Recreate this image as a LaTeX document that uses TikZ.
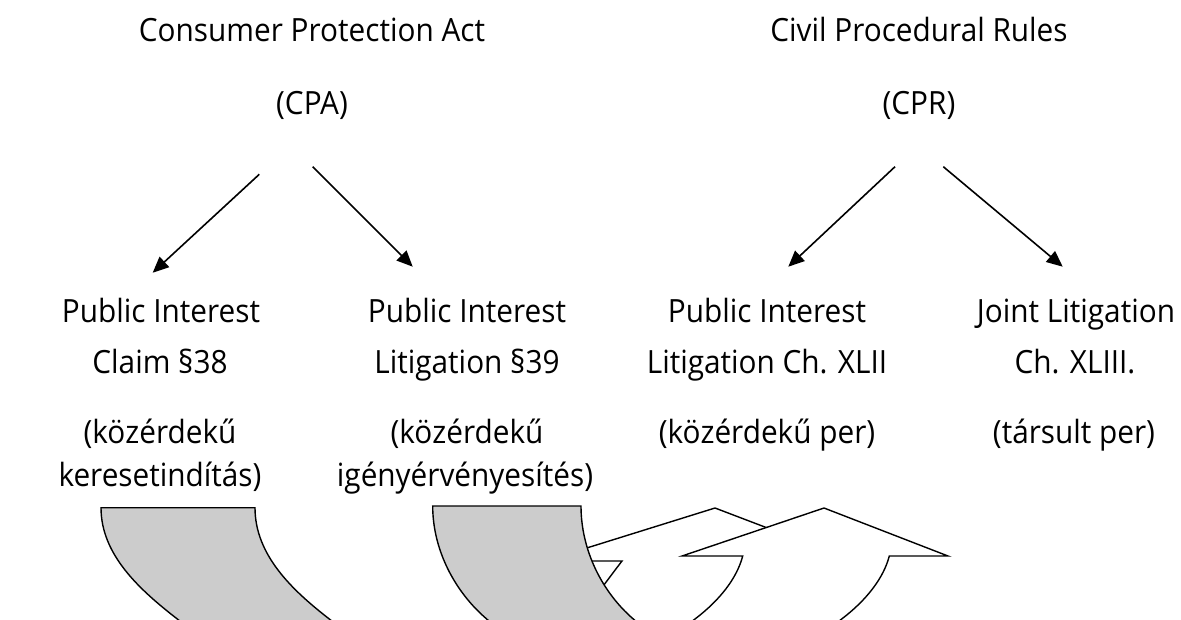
\documentclass[tikz,border=0pt]{standalone}
\usepackage{fontspec}
\setmainfont{Open Sans}[FakeStretch=0.93]
\usetikzlibrary{arrows.meta}
\definecolor{shadegray}{RGB}{204,204,204}
\begin{document}
\begin{tikzpicture}[x=1pt,y=-1pt,
  txt/.style={font=\fontsize{32}{38}\selectfont, anchor=base, inner sep=0pt},
  conn/.style={line width=1.6pt, -{Triangle[length=16pt,width=14pt]}},
  outl/.style={draw=black, line width=1.4pt, line join=miter}]
\useasboundingbox[fill=white] (0,0) rectangle (1181,619);

% titles
\node[txt] (cpaA) at (312,41) {Consumer Protection Act};
\node[txt] (cpaB) at (312,114) {(CPA)};
\node[txt] (cprA) at (919,41) {Civil Procedural Rules};
\node[txt] (cprB) at (919,114) {(CPR)};

% column 1
\node[txt] (c1a) at (161,322) {Public Interest};
\node[txt] (c1b) at (160,373) {Claim §38};
\node[txt] (c1c) at (160,443) {(közérdekű};
\node[txt] (c1d) at (160,486) {keresetindítás)};
% column 2
\node[txt] (c2a) at (467,322) {Public Interest};
\node[txt] (c2b) at (467,373) {Litigation §39};
\node[txt] (c2c) at (467,443) {(közérdekű};
\node[txt] (c2d) at (465,486) {igényérvényesítés)};
% column 3
\node[txt] (c3a) at (767,322) {Public Interest};
\node[txt] (c3b) at (767,373) {Litigation Ch. XLII};
\node[txt] (c3c) at (767,443) {(közérdekű per)};
% column 4
\node[txt] (c4a) at (1076,322) {Joint Litigation};
\node[txt] (c4b) at (1075,373) {Ch. XLIII.};
\node[txt] (c4c) at (1074,443) {(társult per)};

% arrows
\coordinate (s1) at (259.3,174.3); \coordinate (e1) at (152.7,272.7);
\coordinate (s2) at (312.7,166.7); \coordinate (e2) at (412.7,266.7);
\coordinate (s3) at (895,166.7);   \coordinate (e3) at (788.3,266.7);
\coordinate (s4) at (943.3,166.7); \coordinate (e4) at (1062.7,266.7);
\draw[conn] (s1) -- (e1);
\draw[conn] (s2) -- (e2);
\draw[conn] (s3) -- (e3);
\draw[conn] (s4) -- (e4);

% curved arrow shapes at bottom
\begin{scope}
\clip (0,0) rectangle (1181,619);
% white up arrow (back)
\draw[outl, fill=white] (622,561) -- (545,561) -- (715,508) -- (854,561) -- (769,561)
  .. controls (762,580) and (748,600) .. (722,630) -- (570,630)
  .. controls (595,597) and (612,574) .. (622,561) -- cycle;
% white up arrow (front)
\draw[outl, fill=white] (742.7,556) -- (682,556) -- (824,508) -- (948,556) -- (889.3,556)
  .. controls (883.6,578) and (866.6,600) .. (841.7,619) -- (827.3,630) -- (680.5,630)
  -- (695,619) .. controls (720,600) and (737,578) .. (742.7,556) -- cycle;
% gray shape 1
\draw[outl, fill=shadegray] (101,507.7) -- (255,507.7)
  .. controls (255,555) and (292,590) .. (329.3,619) -- (343,630) -- (191,630)
  -- (177.3,619) .. controls (140,590) and (101,555) .. (101,507.7) -- cycle;
% gray shape 2
\draw[outl, fill=shadegray] (432.7,506) -- (581,506)
  .. controls (581,550) and (602,592) .. (633.3,619) -- (646,630) -- (499,630)
  -- (486.7,619) .. controls (455,592) and (432.7,550) .. (432.7,506) -- cycle;
\end{scope}
\end{tikzpicture}
\end{document}
